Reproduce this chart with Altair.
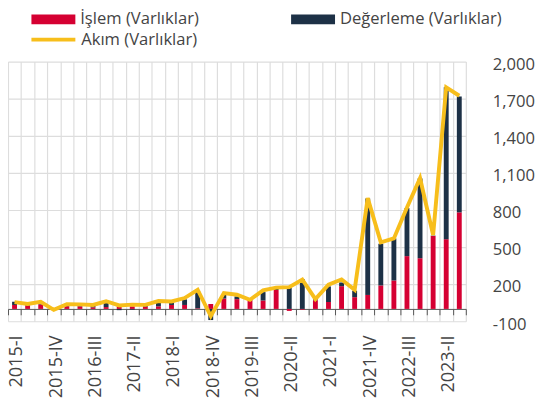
import altair as alt
import pandas as pd

quarters = ["2015-I", "2015-II", "2015-III", "2015-IV",
            "2016-I", "2016-II", "2016-III", "2016-IV",
            "2017-I", "2017-II", "2017-III", "2017-IV",
            "2018-I", "2018-II", "2018-III", "2018-IV",
            "2019-I", "2019-II", "2019-III", "2019-IV",
            "2020-I", "2020-II", "2020-III", "2020-IV",
            "2021-I", "2021-II", "2021-III", "2021-IV",
            "2022-I", "2022-II", "2022-III", "2022-IV",
            "2023-I", "2023-II", "2023-III"]

islem = [32, 26, 37, 2, 22, 21, 13, 15, 22, 21, 18, 21,
         32, 32, 5, 40, 84, 79, 68, 68, 153, -16, -6, 70,
         56, 184, 95, 113, 190, 230, 427, 410, 590, 564, 781]

degerleme = [26, 5, 24, -6, 14, 8, 12, 40, -10, -6, 8, 32,
             18, 45, 140, -90, 32, 22, 6, 68, 8, 172, 240, 8,
             126, 30, 52, 780, 337, 340, 388, 645, 3, 1228, 937]

akim = [55, 40, 58, -8, 38, 37, 32, 62, 28, 35, 33, 64,
        60, 88, 155, -58, 128, 115, 74, 150, 172, 176, 237, 80,
        196, 238, 155, 896, 538, 570, 820, 1057, 598, 1792, 1724]

y_ticks = [-100, 200, 500, 800, 1100, 1400, 1700, 2000]
label_quarters = quarters[::3]

series_names = ["İşlem (Varlıklar)", "Değerleme (Varlıklar)"]
line_name = "Akım (Varlıklar)"
colors = ["#D50032", "#1D3146"]
line_color = "#F7BE1B"

rows = []
for i, q in enumerate(quarters):
    rows.append({"q": q, "series": series_names[0], "value": islem[i], "ord": 0})
    rows.append({"q": q, "series": series_names[1], "value": degerleme[i], "ord": 1})
bars_df = pd.DataFrame(rows)
line_df = pd.DataFrame({"q": quarters, "akim": akim, "series": line_name})

W, H = 469, 266
y_min, y_max = -100, 2000
zero_offset = -H * (0 - y_min) / (y_max - y_min)

yscale = alt.Scale(domain=[y_min, y_max], nice=False, zero=False)
yaxis = alt.Axis(orient="right", title=None, values=y_ticks,
                 labelExpr="datum.value < 0 ? '-' + format(-datum.value, ',.0f') : format(datum.value, ',.0f')",
                 grid=True, gridColor="#dddddd", gridWidth=1.2,
                 domain=False, ticks=False, labelFontSize=17, labelColor="#444444",
                 labelPadding=27, labelBaseline="middle", labelOffset=3)

xscale = alt.Scale(paddingInner=0, paddingOuter=0)
label_expr = "indexof(" + str(label_quarters) + ", datum.value) >= 0 ? datum.value : ''"

xaxis_labels = alt.Axis(title=None, grid=True, gridColor="#dddddd", gridWidth=1.2,
                        tickBand="extent", domain=False, ticks=False, tickSize=0,
                        labelAngle=270, labelAlign="right", labelBaseline="middle",
                        labelFontSize=18.5, labelColor="#444444", labelPadding=14,
                        labelOffset=1.5,
                        labelOverlap=False, labelExpr=label_expr, orient="bottom")

xaxis_zero = alt.Axis(title=None, orient="bottom", offset=zero_offset, grid=False,
                      labels=False, domain=True, domainColor="#555555", domainWidth=1,
                      ticks=True, tickBand="extent", tickSize=6, tickColor="#555555",
                      tickWidth=1)

bars = alt.Chart(bars_df).mark_bar(size=5).encode(
    x=alt.X("q:N", sort=quarters, scale=xscale, axis=xaxis_labels),
    y=alt.Y("value:Q", stack="zero", scale=yscale, axis=yaxis),
    color=alt.Color("series:N", sort=series_names,
                    scale=alt.Scale(domain=series_names, range=colors),
                    legend=alt.Legend(title=None, orient="none", legendX=23, legendY=-52,
                                      direction="horizontal", columns=2, columnPadding=93,
                                      symbolType="M-1,-0.667L5,-0.667L5,0.667L-1,0.667Z",
                                      symbolSize=225, symbolStrokeWidth=0,
                                      labelFontSize=17, labelColor="#444444",
                                      labelOffset=34, labelLimit=300)),
    order=alt.Order("ord:Q"),
)

line = alt.Chart(line_df).mark_line(strokeWidth=4).encode(
    x=alt.X("q:N", sort=quarters, scale=xscale, axis=xaxis_zero),
    y=alt.Y("akim:Q", scale=yscale, axis=yaxis),
    stroke=alt.Stroke("series:N", scale=alt.Scale(domain=[line_name], range=[line_color]),
                      legend=alt.Legend(title=None, orient="none", legendX=22, legendY=-32,
                                        symbolType="M-1,0L5,0", symbolSize=225,
                                        symbolStrokeWidth=4, labelFontSize=17,
                                        labelColor="#444444", labelOffset=34,
                                        labelLimit=300)),
)

chart = alt.layer(bars, line).resolve_axis(x="independent").properties(
    width=W, height=H,
    autosize=alt.AutoSizeParams(type="none"),
    padding={"left": 0, "top": 50, "right": 77, "bottom": 88},
).configure(font="Open Sans").configure_view(stroke=None)

chart.save("out.html", embed_options={"renderer": "svg", "actions": False})
